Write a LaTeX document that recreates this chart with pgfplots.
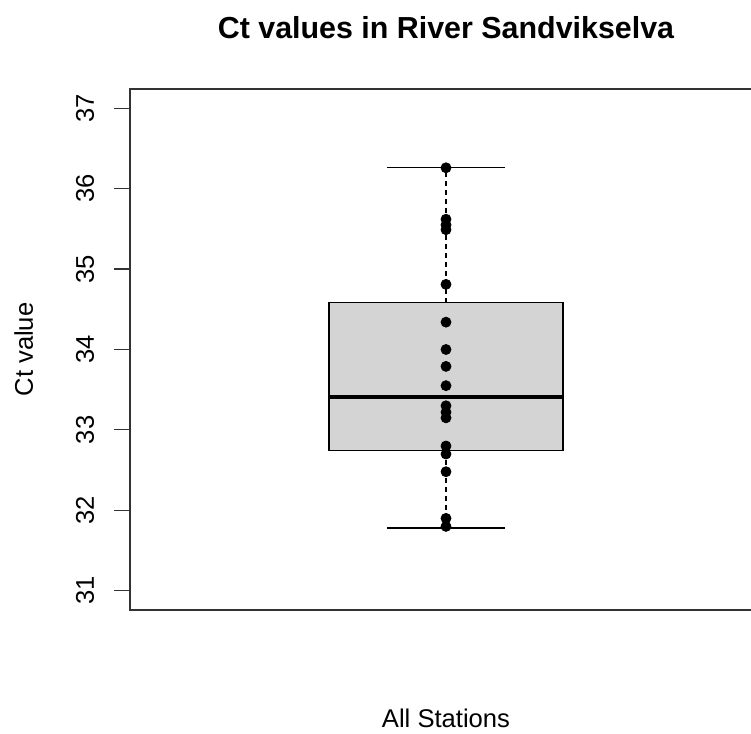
\documentclass[border=0pt]{standalone}
\usepackage{pgfplots}
\pgfplotsset{compat=1.18}
\usepackage{fontspec}
\setmainfont{Liberation Sans}
\begin{document}
\begin{tikzpicture}
\useasboundingbox (-65bp,-62bp) rectangle (310.5bp,305bp);
\begin{axis}[
  at={(0,0)}, anchor=south west,
  scale only axis,
  width=316bp, height=260.5bp,
  xmin=0.46, xmax=1.54,
  ymin=30.76, ymax=37.24,
  xtick=\empty,
  ytick={31,32,33,34,35,36,37},
  ytick pos=left,
  tick align=outside,
  major tick length=8bp,
  tick style={black!80, line width=0.6bp},
  axis line style={black!80, line width=0.75bp},
  /pgf/number format/assume math mode=true,
  yticklabel style={rotate=90, anchor=base, inner sep=0pt, font=\fontsize{12.8bp}{15bp}\selectfont},
  yticklabel shift=10bp,
  title={Ct values in River Sandvikselva},
  title style={at={(rel axis cs:0.5,1)}, anchor=base, yshift=19.5bp, inner sep=0pt, font=\fontsize{15.2bp}{18bp}\selectfont\bfseries},
  xlabel={All Stations},
  xlabel style={at={(rel axis cs:0.5,0)}, anchor=base, yshift=-58.5bp, inner sep=0pt, font=\fontsize{12.8bp}{15bp}\selectfont},
  ylabel={Ct value},
  ylabel style={at={([xshift=-48.5bp]rel axis cs:0,0.5)}, anchor=base, inner sep=0pt, font=\fontsize{12.8bp}{15bp}\selectfont},
  clip=false,
]
% box
\addplot[fill=black!17, draw=black, line width=0.6bp]
  coordinates {(0.8,32.74) (1.2,32.74) (1.2,34.58) (0.8,34.58)} -- cycle;
% median
\addplot[black, line width=1.6bp] coordinates {(0.8,33.41) (1.2,33.41)};
% whiskers
\addplot[black, line width=0.6bp, dash pattern=on 2.5bp off 2bp] coordinates {(1,34.58) (1,36.26)};
\addplot[black, line width=0.6bp, dash pattern=on 2.5bp off 2bp] coordinates {(1,32.74) (1,31.78)};
\addplot[black, line width=0.6bp] coordinates {(0.9,36.26) (1.1,36.26)};
\addplot[black, line width=0.6bp] coordinates {(0.9,31.78) (1.1,31.78)};
% points
\addplot[only marks, mark=*, mark size=2.5bp, black] coordinates {
 (1,36.26) (1,35.62) (1,35.55) (1,35.49) (1,34.81) (1,34.34) (1,34.00) (1,33.79)
 (1,33.55) (1,33.30) (1,33.22) (1,33.15) (1,32.80) (1,32.70) (1,32.48) (1,31.90) (1,31.80)
};
\end{axis}
\end{tikzpicture}
\end{document}
